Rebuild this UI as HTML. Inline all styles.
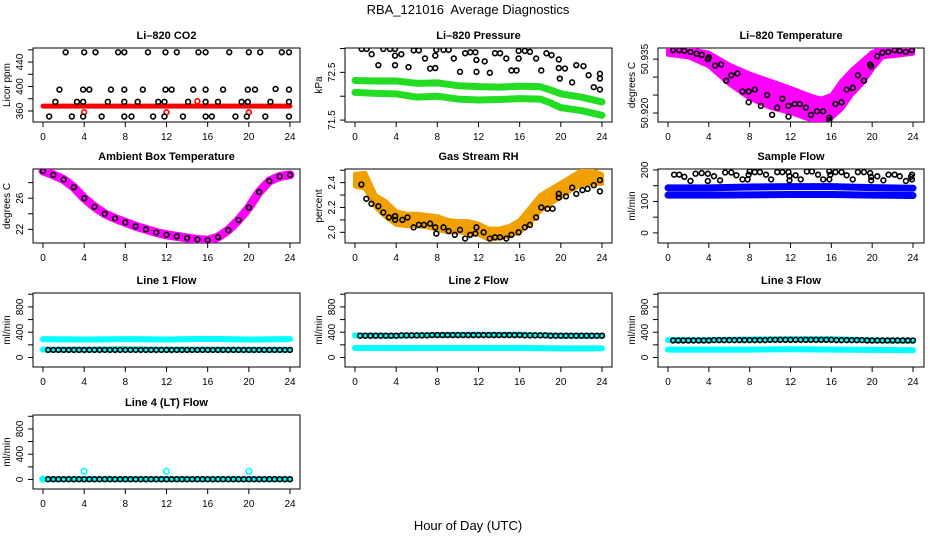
<!DOCTYPE html>
<html><head><meta charset="utf-8"><style>
html,body{margin:0;padding:0;background:#fff;}
svg{display:block;font-family:"Liberation Sans",Arial,sans-serif;}
</style></head>
<body>
<svg id="chart" width="936" height="540" viewBox="0 0 936 540" xmlns="http://www.w3.org/2000/svg">
<text x="468" y="14" text-anchor="middle" font-size="13">RBA_121016&#160; Average Diagnostics</text>
<text x="468" y="530" text-anchor="middle" font-size="13">Hour of Day (UTC)</text>
</svg>
<script>
// ---------- data ----------
const co2Hours=[2.2,4,5.1,7.3,7.9,10.2,11.9,13,15.1,15.8,18.1,20,21.1,23.2,23.9, 1.6,3.9,4.5,6.6,7.9,9.7,11.9,12.5,14.6,15.8,17.5,19.9,20.6,22.6,23.9, 1.2,3.3,3.9,6.3,7.9,9.2,11.2,11.8,14.1,15.8,17,19.3,19.9,22.1,23.9, 0.6,2.8,3.9,5.7,7.9,8.6,10.7,11.8,13.6,15.8,16.4,18.7,19.8,21.6,23.9];
const co2Vals=[456,456,456,456,456,456,456,456,456,456,456,456,456,456,456, 395,395,395,395,395,395,395,395,395,395,395,395,395,396,395, 375,375,375,375,375,375,375,375,375,375,375,375,375,375,375, 351,351,351,351,351,351,351,351,351,351,351,351,351,351,351];
const co2RedHours=[0,4,8,12,16,20,24];
const co2RedVals=[368,368,368,368,368,368,368];
const co2RedPtHours=[4,12,15,20];
const co2RedPtVals=[358,358,376,358];

const presHours=[0.65,1.13,1.62,2.27,2.75,3.4,3.89,3.89,3.89,4.5,5.2,5.7,6.2,6.8,7.3,7.8,7.8,7.9,8.6,9.1,9.6,10.2,10.7,11.2,11.7,11.8,11.8,12.6,13.1,13.6,14.1,14.7,15.2,15.7,15.9,15.9,16.5,17,17.6,18.1,18.6,19.1,19.8,19.8,19.9,20.4,21.1,21.5,22.2,22.7,23.2,23.8,23.8,23.8];
const presVals=[72.99,72.99,72.88,72.65,72.99,72.99,72.99,72.85,72.65,72.88,72.61,72.96,72.96,72.79,72.58,72.59,72.85,72.97,72.97,72.97,72.79,72.51,72.9,72.92,72.92,72.76,72.51,72.73,72.49,72.9,72.9,72.79,72.54,72.54,72.79,72.95,72.95,72.93,72.79,72.54,72.9,72.86,72.77,72.59,72.37,72.58,72.29,72.65,72.63,72.44,72.19,72.37,72.14,72.47];
const presBandHours=[0,2,4,6,8,10,12,14,16,18,19,20,22,24];
const presUpper=[72.33,72.32,72.32,72.27,72.28,72.22,72.2,72.19,72.21,72.2,72.13,72.05,71.98,71.88];
const presLower=[72.08,72.06,72.05,71.98,72.0,71.94,71.92,71.93,71.95,71.94,71.86,71.76,71.7,71.6];

const tempBandHours=[0,2,4,6,8,10,12,14,15,16,17,18,19,20,21,24];
const tempUpper=[50.9381,50.9379,50.9368,50.9335,50.931,50.929,50.927,50.9248,50.924,50.925,50.929,50.932,50.9345,50.937,50.938,50.9381];
const tempLower=[50.9362,50.9355,50.933,50.928,50.924,50.9215,50.92,50.918,50.9175,50.9185,50.921,50.925,50.928,50.932,50.9355,50.9365];
const tempHours=[0.5,1.1,1.6,2.2,2.8,3.3,3.9,4.0,4.6,5.2,5.7,6.2,6.8,7.3,7.9,7.9,8.5,9.1,9.7,10.2,10.7,11.2,11.8,11.8,12.4,12.9,13.5,14.0,14.6,15.2,15.8,15.8,16.4,17.0,17.5,18.1,18.6,19.2,19.8,19.9,20.5,21.0,21.6,22.2,22.7,23.3,23.9];
const tempVals=[50.9375,50.9375,50.9373,50.937,50.9365,50.9362,50.935,50.9355,50.9332,50.9335,50.929,50.9305,50.931,50.926,50.926,50.923,50.9265,50.922,50.925,50.9195,50.9215,50.924,50.919,50.922,50.9225,50.9225,50.9215,50.9195,50.9205,50.9205,50.918,50.9187,50.9225,50.923,50.9265,50.927,50.9305,50.929,50.9335,50.933,50.9358,50.9368,50.937,50.9375,50.9373,50.937,50.9375];

const ambHours=[0,1,2,3,4,5,6,7,8,9,10,11,12,13,14,15,16,17,18,19,20,21,22,23,24];
const ambVals=[29.5,29.0,28.4,27.4,26.0,24.9,24.0,23.4,22.9,22.4,22.0,21.6,21.3,21.1,20.9,20.7,20.6,21.0,21.9,23.2,24.8,26.8,28.2,28.8,29.0];

const rhBandHours=[0,1,2,3,4,5,6,7,8,9,10,11,12,13,14,15,16,17,18,19,20,21,22,23,24];
const rhUpper=[2.47,2.48,2.3,2.25,2.17,2.15,2.15,2.14,2.13,2.1,2.09,2.09,2.07,2.03,2.03,2.05,2.1,2.2,2.3,2.35,2.4,2.45,2.5,2.5,2.47];
const rhLower=[2.37,2.35,2.2,2.12,2.06,2.05,2.05,2.04,2.02,2.0,2.0,1.99,1.98,1.94,1.95,1.97,2.0,2.07,2.17,2.23,2.28,2.34,2.38,2.39,2.39];
const rhHours=[0.62,1.1,1.6,2.27,2.75,3.3,3.9,3.9,4.6,5.1,5.7,6.2,6.7,7.3,7.8,7.9,8.6,9.1,9.7,10.2,10.7,11.2,11.7,11.8,12.5,13.1,13.6,14.1,14.7,15.2,15.9,16.5,17,17.6,18.1,18.7,19.2,19.8,19.8,20.5,21.1,21.5,22.1,22.6,23.2,23.8,23.8];
const rhVals=[2.385,2.27,2.23,2.21,2.16,2.12,2.13,2.1,2.1,2.12,2.04,2.06,2.06,2.07,2.04,1.99,2.04,2.01,1.98,2.02,1.95,1.98,1.99,2.04,2.0,1.95,1.96,1.96,1.95,1.98,2.0,2.04,2.06,2.12,2.2,2.19,2.19,2.28,2.31,2.29,2.36,2.31,2.34,2.35,2.38,2.42,2.33];

const sampleBandHours=[0,4,8,12,16,20,24];
const sampleUpper=[143,143,146,147,147,144,142];
const sampleLower=[120,120,121,122,122,120,119];
const sampleHours=[0.6,1.1,1.6,2.2,2.7,3.3,3.9,3.9,4.5,5.1,5.6,6.2,6.7,7.3,7.8,7.9,8.0,8.5,9.0,9.6,10.1,10.7,11.2,11.8,11.9,11.9,12.5,13.0,13.6,14.1,14.7,15.2,15.8,15.8,15.9,16.4,17.0,17.5,18.1,18.6,19.2,19.8,19.9,19.9,20.5,21.1,21.6,22.2,22.7,23.3,23.9,23.9,23.8];
const sampleVals=[185,185,178,165,188,190,188,165,180,167,192,192,183,170,170,185,195,193,193,185,170,193,193,193,167,180,183,170,195,195,185,170,170,195,185,193,193,183,170,193,193,190,167,178,180,167,185,185,180,165,185,170,178];

const flowHours=[0.5,1,1.5,2,2.5,3,3.5,4,4.5,5,5.5,6,6.5,7,7.5,8,8.5,9,9.5,10,10.5,11,11.5,12,12.5,13,13.5,14,14.5,15,15.5,16,16.5,17,17.5,18,18.5,19,19.5,20,20.5,21,21.5,22,22.5,23,23.5,24];
const line1Black=[120,120,120,120,120,120,120,120,120,120,120,120,120,120,120,120,120,120,120,120,120,120,120,120,120,120,120,120,120,120,120,120,120,120,120,120,120,120,120,120,120,120,120,120,120,120,120,120];
const line2Black=[345,345,345,345,345,345,345,345,350,350,350,350,350,350,355,355,355,355,355,355,355,355,355,355,355,355,355,355,355,355,355,355,350,350,350,350,350,345,345,345,345,345,345,345,345,345,345,345];
const line3Black=[270,270,270,270,270,270,270,270,275,275,275,275,275,275,275,275,275,275,275,280,280,280,280,280,280,280,280,280,280,280,280,280,275,275,275,275,275,275,270,270,270,270,270,270,270,270,270,270];
const line4Black=[5,5,5,5,5,5,5,5,5,5,5,5,5,5,5,5,5,5,5,5,5,5,5,5,5,5,5,5,5,5,5,5,5,5,5,5,5,5,5,5,5,5,5,5,5,5,5,5];
const cyanHours=[0,4,8,12,16,20,24];
const line1CyanHi=[290,285,290,285,295,285,290];
const line1CyanLo=[125,125,130,125,125,120,120];
const line2CyanHi=[350,345,355,360,360,345,345];
const line2CyanLo=[150,150,150,150,150,145,145];
const line3CyanHi=[275,275,285,290,290,270,265];
const line3CyanLo=[125,125,125,130,125,120,115];
const line4CyanLo=[5,5,5,5,5,5,5];
const line4CyanPtHours=[0,4,12,20];
const line4CyanPtVals=[5,130,130,130];

// ---------- layout ----------
const NS="http://www.w3.org/2000/svg";
const svg=document.getElementById('chart');
const COLS=[{x0:33,x1:300,h0:43,h24:290},{x0:345,x1:612,h0:355,h24:602},{x0:658,x1:924,h0:668,h24:913}];
const ROWS=[48,169,293,415];
const PH=74;
function mk(tag,attrs,parent){const e=document.createElementNS(NS,tag);for(const k in attrs)e.setAttribute(k,attrs[k]);(parent||svg).appendChild(e);return e;}
function panel(c,r,dmin,dmax,title,ylab,ticks,labels,fmt,name){
  const C=COLS[c],y0=ROWS[r],y1=y0+PH;
  const g=mk('g',{});
  
  
  const p={g,C,y0,y1,sx:h=>C.h0+(C.h24-C.h0)*h/24,sy:v=>y1-(v-dmin)/(dmax-dmin)*PH};
  const t=mk('text',{x:(C.x0+C.x1)/2,y:y0-9,'text-anchor':'middle','font-size':11,'font-weight':'bold'},g);
  t.textContent=title;
  
  
  const box=mk('rect',{x:C.x0,y:y0,width:C.x1-C.x0,height:PH,fill:'none',stroke:'#000','stroke-width':1},g);
  
  
  const yl=mk('text',{transform:`translate(${C.x0-23},${(y0+y1)/2}) rotate(-90)`,'text-anchor':'middle','font-size':10},g);
  yl.textContent=ylab;
  
  
  ticks.forEach(v=>{const y=p.sy(v);
    const tk=mk('line',{x1:C.x0-5,x2:C.x0,y1:y,y2:y,stroke:'#000'},g);
    
    
  });
  labels.forEach(v=>{const y=p.sy(v);
    const tl=mk('text',{transform:`translate(${C.x0-10},${y}) rotate(-90)`,'text-anchor':'middle','font-size':10},g);
    tl.textContent=fmt(v);
    
    
  });
  [0,4,8,12,16,20,24].forEach(h=>{const x=p.sx(h);
    const tk=mk('line',{x1:x,x2:x,y1:y1,y2:y1+5,stroke:'#000'},g);
    
    
    const tl=mk('text',{x:x,y:y1+18,'text-anchor':'middle','font-size':10},g);
    tl.textContent=String(h);
    
    
  });
  const clip=mk('clipPath',{id:'clip'+name},g);
  mk('rect',{x:C.x0,y:y0,width:C.x1-C.x0,height:PH},clip);
  p.d=mk('g',{'clip-path':`url(#clip${name})`},g);
  
  
  return p;
}
function pts(p,H,V,color,name,r){
  H.forEach((h,i)=>{
    const e=mk('circle',{cx:p.sx(h),cy:p.sy(V[i]),r:r||2.4,fill:'none',stroke:color,'stroke-width':1.6},p.d);
    
    
  });
}
function line(p,H,V,color,w,name){
  const e=mk('polyline',{points:H.map((h,i)=>p.sx(h)+','+p.sy(V[i])).join(' '),fill:'none',stroke:color,'stroke-width':w,'stroke-linejoin':'round','stroke-linecap':'round'},p.d);
  
  
}
function band(p,H,U,L,color,name){
  const a=H.map((h,i)=>p.sx(h)+','+p.sy(U[i]));
  const b=H.map((h,i)=>p.sx(h)+','+p.sy(L[i])).reverse();
  const e=mk('polygon',{points:a.concat(b).join(' '),fill:color,stroke:color,'stroke-width':4,'stroke-linejoin':'round'},p.d);
  
  
}
const f0=v=>String(v), f1=v=>v.toFixed(1), f3=v=>v.toFixed(3);
const flowTicks=[0,200,400,600,800,1000], flowLabs=[0,400,800];

// CO2
let p=panel(0,0,342,463,'Li\u2013820 CO2','Licor ppm',[360,380,400,420,440,460],[360,400,440],f0,'co2');
line(p,co2RedHours,co2RedVals,'#ff0000',5,'co2-red-series');
pts(p,co2RedPtHours,co2RedPtVals,'#ff0000','co2-red-point');
pts(p,co2Hours,co2Vals,'#000','co2-point');
// Pressure
p=panel(1,0,71.46,73.01,'Li\u2013820 Pressure','kPa',[71.5,72,72.5,73],[71.5,72.5],f1,'pressure');
line(p,presBandHours,presUpper,'#22dd22',7,'pressure-upper-band');
line(p,presBandHours,presLower,'#22dd22',7,'pressure-lower-band');
pts(p,presHours,presVals,'#000','pressure-point');
// Temperature
p=panel(2,0,50.9175,50.9381,'Li\u2013820 Temperature','degrees C',[50.92,50.925,50.93,50.935],[50.92,50.935],f3,'li820-temp');
band(p,tempBandHours,tempUpper,tempLower,'#ff00ff','li820-temp-band');
pts(p,tempHours,tempVals,'#000','li820-temp-point');
// Ambient
p=panel(0,1,20.25,29.75,'Ambient Box Temperature','degrees C',[22,24,26,28],[22,26],f0,'ambient');
line(p,ambHours,ambVals,'#ff00ff',9,'ambient-line');
pts(p,ambHours,ambVals,'#000','ambient-point');
// RH
p=panel(1,1,1.914,2.51,'Gas Stream RH','percent',[2.0,2.1,2.2,2.3,2.4,2.5],[2.0,2.2,2.4],f1,'rh');
band(p,rhBandHours,rhUpper,rhLower,'#f0a000','rh-band');
pts(p,rhHours,rhVals,'#000','rh-point');
// Sample flow
p=panel(2,1,-32,203,'Sample Flow','ml/min',[0,50,100,150,200],[0,100,200],f0,'sample-flow');
line(p,sampleBandHours,sampleUpper,'#0000ff',7,'sample-upper-band');
line(p,sampleBandHours,sampleLower,'#0000ff',7,'sample-lower-band');
pts(p,sampleHours,sampleVals,'#000','sample-point');
// Line 1
p=panel(0,2,-150,1020,'Line 1 Flow','ml/min',flowTicks,flowLabs,f0,'line1');
line(p,cyanHours,line1CyanHi,'#00ffff',6,'line1-cyan-upper');
line(p,cyanHours,line1CyanLo,'#00ffff',6,'line1-cyan-lower');
pts(p,flowHours,line1Black,'#000','line1-point');
// Line 2
p=panel(1,2,-150,1020,'Line 2 Flow','ml/min',flowTicks,flowLabs,f0,'line2');
line(p,cyanHours,line2CyanHi,'#00ffff',6,'line2-cyan-upper');
line(p,cyanHours,line2CyanLo,'#00ffff',6,'line2-cyan-lower');
pts(p,flowHours,line2Black,'#000','line2-point');
// Line 3
p=panel(2,2,-150,1020,'Line 3 Flow','ml/min',flowTicks,flowLabs,f0,'line3');
line(p,cyanHours,line3CyanHi,'#00ffff',6,'line3-cyan-upper');
line(p,cyanHours,line3CyanLo,'#00ffff',6,'line3-cyan-lower');
pts(p,flowHours,line3Black,'#000','line3-point');
// Line 4
p=panel(0,3,-150,1020,'Line 4 (LT) Flow','ml/min',flowTicks,flowLabs,f0,'line4');
line(p,cyanHours,line4CyanLo,'#00ffff',6,'line4-cyan');
pts(p,line4CyanPtHours,line4CyanPtVals,'#00ffff','line4-cyan-point',2.8);
pts(p,flowHours,line4Black,'#000','line4-point');
</script>
</body></html>
